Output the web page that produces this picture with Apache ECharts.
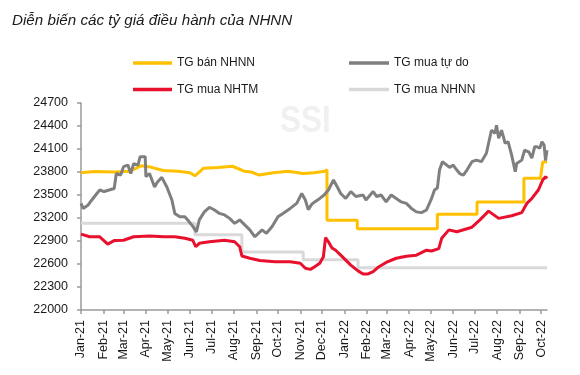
<!DOCTYPE html>
<html>
<head>
<meta charset="utf-8">
<script src="https://cdn.jsdelivr.net/npm/echarts@6/dist/echarts.min.js"></script>
<style>
  html, body { margin: 0; padding: 0; background: #fff; }
  #chart { width: 580px; height: 375px; }
</style>
</head>
<body>
<div id="chart"></div>
<script>
// tick labels
const yTicks = [22000, 22300, 22600, 22900, 23200, 23500, 23800, 24100, 24400, 24700];
const monthStarts = ['2021-01-01', '2021-02-01', '2021-03-01', '2021-04-01', '2021-05-01', '2021-06-01',
  '2021-07-01', '2021-08-01', '2021-09-01', '2021-10-01', '2021-11-01', '2021-12-01',
  '2022-01-01', '2022-02-01', '2022-03-01', '2022-04-01', '2022-05-01', '2022-06-01',
  '2022-07-01', '2022-08-01', '2022-09-01', '2022-10-01'];
const monthNames = ['Jan', 'Feb', 'Mar', 'Apr', 'May', 'Jun', 'Jul', 'Aug', 'Sep', 'Oct', 'Nov', 'Dec'];

// TG bán NHNN
const banDates = ['2021-01-01', '2021-01-20', '2021-02-15', '2021-03-10', '2021-03-25', '2021-04-05', '2021-04-25',
  '2021-05-15', '2021-06-01', '2021-06-08', '2021-06-20', '2021-07-10', '2021-07-30', '2021-08-15', '2021-08-25',
  '2021-09-05', '2021-09-25', '2021-10-15', '2021-11-05', '2021-11-20', '2021-12-05', '2021-12-08', '2021-12-08',
  '2022-01-19', '2022-01-19', '2022-05-10', '2022-05-10', '2022-07-04', '2022-07-04', '2022-09-07', '2022-09-07',
  '2022-09-30', '2022-10-03', '2022-10-09'];
const banValues = [23790, 23805, 23800, 23810, 23880, 23870, 23820,
  23810, 23790, 23750, 23850, 23860, 23875, 23810, 23800,
  23760, 23790, 23810, 23780, 23790, 23810, 23830, 23170,
  23170, 23060, 23060, 23250, 23250, 23410, 23410, 23720,
  23720, 23930, 23930];

// TG mua NHNN
const muaNhnnDates = ['2021-01-01', '2021-06-08', '2021-08-12', '2021-11-05', '2022-01-20', '2022-10-09'];
const muaNhnnValues = [23130, 22980, 22755, 22655, 22550, 22550];

// TG mua tự do
const tuDoDates = ['2021-01-01', '2021-01-04', '2021-01-11', '2021-01-16', '2021-01-23', '2021-01-27', '2021-02-02',
  '2021-02-09', '2021-02-16', '2021-02-19', '2021-02-25', '2021-03-01', '2021-03-07', '2021-03-11', '2021-03-15',
  '2021-03-21', '2021-03-24', '2021-03-31', '2021-04-01', '2021-04-06', '2021-04-13', '2021-04-17', '2021-04-23',
  '2021-04-30', '2021-05-07', '2021-05-11', '2021-05-18', '2021-05-25', '2021-05-31', '2021-06-05', '2021-06-10',
  '2021-06-14', '2021-06-21', '2021-06-28', '2021-07-05', '2021-07-12', '2021-07-19', '2021-07-26', '2021-08-02',
  '2021-08-09', '2021-08-16', '2021-08-23', '2021-08-30', '2021-09-09', '2021-09-15', '2021-09-23', '2021-10-01',
  '2021-10-08', '2021-10-18', '2021-10-27', '2021-11-03', '2021-11-08', '2021-11-12', '2021-11-17', '2021-11-21',
  '2021-11-28', '2021-12-04', '2021-12-10', '2021-12-17', '2021-12-22', '2021-12-27', '2022-01-03', '2022-01-10',
  '2022-01-17', '2022-01-27', '2022-01-31', '2022-02-10', '2022-02-15', '2022-02-21', '2022-02-28', '2022-03-07',
  '2022-03-14', '2022-03-21', '2022-03-28', '2022-04-04', '2022-04-11', '2022-04-18', '2022-04-25', '2022-04-29',
  '2022-05-02', '2022-05-06', '2022-05-10', '2022-05-13', '2022-05-17', '2022-05-23', '2022-05-27', '2022-06-01',
  '2022-06-06', '2022-06-10', '2022-06-15', '2022-06-20', '2022-06-27', '2022-07-03', '2022-07-10', '2022-07-17',
  '2022-07-20', '2022-07-24', '2022-07-29', '2022-07-31', '2022-08-03', '2022-08-07', '2022-08-12', '2022-08-16',
  '2022-08-21', '2022-08-26', '2022-08-28', '2022-09-04', '2022-09-08', '2022-09-14', '2022-09-18', '2022-09-22',
  '2022-09-25', '2022-09-29', '2022-10-02', '2022-10-05', '2022-10-07', '2022-10-09'];
const tuDoValues = [23390, 23325, 23370, 23435, 23520, 23565, 23545,
  23565, 23585, 23780, 23760, 23870, 23890, 23780, 23910,
  23890, 24000, 24000, 23740, 23780, 23605, 23670, 23730,
  23605, 23435, 23260, 23215, 23215, 23150, 23090, 23020,
  23175, 23280, 23340, 23305, 23260, 23240, 23195, 23130,
  23175, 23110, 23045, 22955, 23045, 23000, 23090, 23215,
  23260, 23325, 23390, 23520, 23435, 23310, 23380, 23410,
  23455, 23500, 23565, 23695, 23610, 23520, 23455, 23545,
  23480, 23500, 23435, 23545, 23480, 23500, 23410, 23500,
  23455, 23410, 23390, 23325, 23280, 23270, 23305, 23390,
  23455, 23565, 23590, 23825, 23935, 23890, 23860, 23890,
  23825, 23780, 23760, 23825, 23935, 23955, 23935, 24045,
  24175, 24345, 24305, 24410, 24240, 24345, 24175, 24195,
  24020, 23805, 23910, 23955, 24085, 24060, 23980, 24130,
  24130, 24110, 24195, 24150, 23950, 24085];

// TG mua NHTM
const nhtmDates = ['2021-01-01', '2021-01-13', '2021-01-27', '2021-02-07', '2021-02-16', '2021-03-01', '2021-03-15',
  '2021-04-06', '2021-04-26', '2021-05-11', '2021-05-25', '2021-06-05', '2021-06-09', '2021-06-14', '2021-06-28',
  '2021-07-19', '2021-08-02', '2021-08-09', '2021-08-12', '2021-08-23', '2021-09-06', '2021-09-27', '2021-10-18',
  '2021-11-01', '2021-11-08', '2021-11-15', '2021-11-21', '2021-11-28', '2021-12-03', '2021-12-06', '2021-12-10',
  '2021-12-15', '2021-12-20', '2021-12-27', '2022-01-03', '2022-01-10', '2022-01-20', '2022-01-27', '2022-02-03',
  '2022-02-10', '2022-02-18', '2022-02-28', '2022-03-14', '2022-03-28', '2022-04-11', '2022-04-25', '2022-05-02',
  '2022-05-12', '2022-05-16', '2022-05-26', '2022-06-06', '2022-06-13', '2022-06-27', '2022-07-08', '2022-07-20',
  '2022-08-03', '2022-08-21', '2022-09-04', '2022-09-11', '2022-09-18', '2022-09-27', '2022-10-03', '2022-10-07',
  '2022-10-09'];
const nhtmValues = [22990, 22955, 22955, 22860, 22905, 22910, 22955,
  22965, 22955, 22955, 22935, 22910, 22825, 22870, 22890,
  22910, 22890, 22825, 22705, 22675, 22645, 22630, 22630,
  22610, 22545, 22530, 22565, 22610, 22695, 22945, 22890,
  22810, 22780, 22715, 22650, 22585, 22510, 22470, 22470,
  22500, 22565, 22620, 22675, 22700, 22715, 22780, 22770,
  22800, 22935, 23045, 23020, 23040, 23080, 23175, 23290,
  23195, 23230, 23270, 23390, 23455, 23565, 23695, 23740,
  23715];

const ts = s => +new Date(s + 'T00:00:00');
const zip = (d, v) => d.map((x, i) => [ts(x), v[i]]);

const chart = echarts.init(document.getElementById('chart'));
const font = 'Arial, "Liberation Sans", sans-serif';
const axisColor = '#9a9a9a';
const legendText = { fontSize: 12, lineHeight: 14, color: '#1a1a1a', fontFamily: font };

chart.setOption({
  animation: false,
  textStyle: { fontFamily: font },
  title: {
    text: 'Diễn biến các tỷ giá điều hành của NHNN',
    left: 12, top: 13, padding: 0,
    textStyle: { fontFamily: font, fontStyle: 'italic', fontWeight: 'normal', fontSize: 15.2, color: '#1a1a1a' }
  },
  graphic: [{
    type: 'text', left: 280, top: 103, scaleX: 0.85, z: 0,
    style: { text: 'SSI', fontFamily: font, fontWeight: 'bold', fontSize: 37, fill: '#f0f0f0' }
  }],
  legend: [
    {
      orient: 'vertical', left: 133, top: 56, padding: 0, icon: 'rect',
      itemWidth: 39, itemHeight: 3.5, itemGap: 12.5,
      data: ['TG bán NHNN', 'TG mua NHTM'],
      textStyle: legendText
    },
    {
      orient: 'vertical', left: 349, top: 56, padding: 0, icon: 'rect',
      itemWidth: 40, itemHeight: 3.5, itemGap: 12.5,
      data: ['TG mua tự do', 'TG mua NHNN'],
      textStyle: legendText
    }
  ],
  grid: { left: 81, top: 103, width: 466, height: 207 },
  xAxis: {
    type: 'value',
    min: ts('2021-01-01'),
    max: ts('2022-10-09'),
    splitLine: { show: false },
    axisLine: { lineStyle: { color: axisColor, width: 1.5 } },
    axisTick: { show: true, length: 4, lineStyle: { color: axisColor, width: 1.5 }, customValues: monthStarts.map(ts) },
    axisLabel: {
      rotate: 90, margin: 10, fontSize: 12.5, color: '#1a1a1a', fontFamily: font,
      customValues: monthStarts.map(ts),
      formatter: v => {
        const d = new Date(v);
        return monthNames[d.getMonth()] + '-' + String(d.getFullYear()).slice(2);
      }
    }
  },
  yAxis: {
    type: 'value',
    min: 22000, max: 24700,
    splitLine: { show: false },
    axisLine: { show: true, lineStyle: { color: axisColor, width: 1.5 } },
    axisTick: { show: true, length: 4, lineStyle: { color: axisColor, width: 1.5 }, customValues: yTicks },
    axisLabel: {
      margin: 13, fontSize: 12.5, color: '#1a1a1a', fontFamily: font, customValues: yTicks,
      formatter: v => String(v)
    }
  },
  series: [
    {
      name: 'TG mua NHNN', type: 'line', step: 'end', symbol: 'none',
      lineStyle: { color: '#d9d9d9', width: 3 }, itemStyle: { color: '#d9d9d9' },
      data: zip(muaNhnnDates, muaNhnnValues)
    },
    {
      name: 'TG bán NHNN', type: 'line', symbol: 'none',
      lineStyle: { color: '#ffc000', width: 3 }, itemStyle: { color: '#ffc000' },
      data: zip(banDates, banValues)
    },
    {
      name: 'TG mua tự do', type: 'line', symbol: 'none',
      lineStyle: { color: '#7f7f7f', width: 3 }, itemStyle: { color: '#7f7f7f' },
      data: zip(tuDoDates, tuDoValues)
    },
    {
      name: 'TG mua NHTM', type: 'line', symbol: 'none',
      lineStyle: { color: '#e8102d', width: 3 }, itemStyle: { color: '#e8102d' },
      data: zip(nhtmDates, nhtmValues)
    }
  ]
});
</script>
</body>
</html>
